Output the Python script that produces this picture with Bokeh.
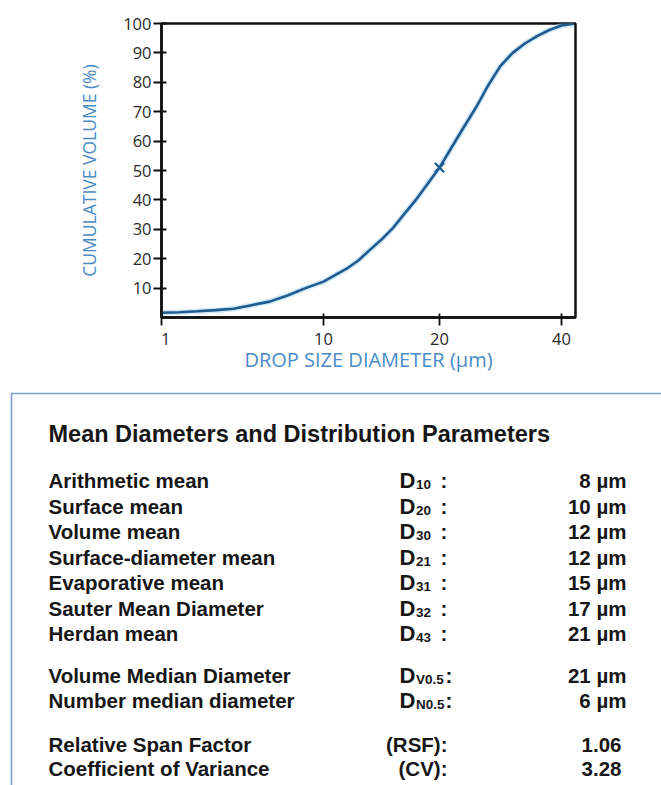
import numpy as np
from bokeh.plotting import figure
from bokeh.layouts import column
from bokeh.models import Range1d, FixedTicker
from bokeh.embed import file_html
from bokeh.resources import INLINE
from bokeh.core.properties import value

# ---- cumulative volume distribution ----
diameter_um = [1, 2, 3, 4, 5, 6, 7, 8, 9, 10, 11, 12, 13, 14, 15, 16, 17, 18, 19, 20,
               22, 24, 26, 28, 30, 32, 34, 36, 38, 40, 42]
cumulative_pct = [1.6, 1.8, 2.1, 2.5, 3.0, 4.2, 5.4, 7.5, 10.0, 12.2, 14.4, 16.6, 19.4, 23.0,
                  26.5, 30.5, 35.4, 40.2, 45.6, 51.0, 57.9, 64.8, 71.5, 79.0, 85.6, 90.0,
                  93.2, 95.7, 97.8, 99.3, 99.9]
median_mark_d = [20]
median_mark_pct = [51]

x_tick_values = [1, 10, 20, 40]
y_tick_values = [10, 20, 30, 40, 50, 60, 70, 80, 90, 100]

# ---- distribution parameters ----
mean_names = ["Arithmetic mean", "Surface mean", "Volume mean", "Surface-diameter mean",
              "Evaporative mean", "Sauter Mean Diameter", "Herdan mean"]
mean_subs = ["10", "20", "30", "21", "31", "32", "43"]
mean_values = [8, 10, 12, 12, 15, 17, 21]

median_names = ["Volume Median Diameter", "Number median diameter"]
median_subs = ["V0.5", "N0.5"]
median_values = [21, 6]

spread_names = ["Relative Span Factor", "Coefficient of Variance"]
spread_symbols = ["(RSF):", "(CV):"]
spread_values = [1.06, 3.28]

# diameter axis is drawn on a piecewise scale between its labelled sizes
axis_anchor_d = [1, 10, 20, 40, 42.3]
axis_anchor_u = [0, 162, 278, 400, 414]


def to_axis(d):
    return np.interp(d, axis_anchor_d, axis_anchor_u)


CURVE = "#1f5b8f"
LABEL_BLUE = "#4a8bc6"
AXIS_FONT = "Open Sans"

p = figure(width=661, height=385, x_range=Range1d(0, 414), y_range=Range1d(0, 100),
           output_backend="svg", toolbar_location=None,
           min_border_left=161, min_border_right=86, min_border_top=23, min_border_bottom=68)
p.frame_align = False
p.grid.visible = False
p.outline_line_color = "#111111"
p.outline_line_width = 2.5
p.background_fill_color = "white"
p.border_fill_color = "white"

xs = to_axis(diameter_um)
p.line(xs, cumulative_pct, line_width=5.5, color="#a9d6f2", alpha=0.55)
p.line(xs, cumulative_pct, line_width=2.6, color=CURVE)
p.scatter(to_axis(median_mark_d), median_mark_pct, marker="x", size=13, line_width=2.2,
          color=CURVE)

xtick_pos = [int(v) for v in to_axis(x_tick_values)]
xa = p.xaxis[0]
xa.ticker = FixedTicker(ticks=xtick_pos)
xa.major_label_overrides = {pos: ("\u00a0\u00a0" + str(v) if pos == 0 else str(v))
                            for pos, v in zip(xtick_pos, x_tick_values)}
xa.minor_tick_line_color = None
xa.major_tick_in = 4
xa.major_tick_out = 8
xa.major_label_standoff = 1
xa.axis_label = "DROP SIZE DIAMETER (µm)"
xa.axis_label_standoff = -7
xa.axis_label_text_font_size = "20px"

ya = p.yaxis[0]
ya.ticker = FixedTicker(ticks=y_tick_values)
ya.minor_tick_line_color = None
ya.major_tick_in = 5
ya.major_tick_out = 8
ya.major_label_standoff = 2
ya.axis_label = "CUMULATIVE VOLUME (%)"
ya.axis_label_standoff = 19
ya.axis_label_text_font_size = "17.5px"

for ax in (xa, ya):
    ax.axis_line_width = 2.5
    ax.axis_line_color = "#111111"
    ax.major_tick_line_width = 1.8
    ax.major_tick_line_color = "#111111"
    ax.major_label_text_font = AXIS_FONT
    ax.major_label_text_font_size = "16.5px"
    ax.major_label_text_color = "#2a2a2a"
    ax.axis_label_text_font = AXIS_FONT
    ax.axis_label_text_font_style = "normal"
    ax.axis_label_text_color = LABEL_BLUE

# ---- parameter table ----
t = figure(width=661, height=400, x_range=Range1d(0, 661), y_range=Range1d(785, 385),
           output_backend="svg", toolbar_location=None, min_border=0)
t.frame_align = False
t.axis.visible = False
t.grid.visible = False
t.outline_line_color = None
t.background_fill_color = "white"
t.border_fill_color = "white"

t.line([11, 11, 665], [790, 393, 393], color="#7d9fd2", line_width=1.6)

TFONT = value("Liberation Sans")
INK = "#161616"
common = dict(text_font=TFONT, text_font_style="bold", text_baseline="alphabetic",
              text_color=INK)

t.text(x=[48], y=[433.5], text=["Mean Diameters and Distribution Parameters"],
       text_font_size="23.5px", **common)

mean_y = [480 + 25.5 * i for i in range(len(mean_names))]
median_y = [675 + 25 * i for i in range(len(median_names))]
spread_y = [744 + 24 * i for i in range(len(spread_names))]

name_y = mean_y + median_y + spread_y
t.text(x=[48] * len(name_y), y=name_y, text=mean_names + median_names + spread_names,
       text_font_size="20.5px", **common)

# symbols D with subscripts
sym_y = mean_y + median_y
t.text(x=[399] * len(sym_y), y=sym_y, text=["D"] * len(sym_y), text_font_size="22px",
       **common)
t.text(x=[415.5] * len(sym_y), y=[y + 4 for y in sym_y], text=mean_subs + median_subs,
       text_font_size="13.5px", **common)
t.text(x=[440] * len(mean_y) + [445] * len(median_y), y=sym_y, text=[":"] * len(sym_y),
       text_font_size="20.5px", **common)
t.text(x=[447] * len(spread_y), y=spread_y, text=spread_symbols, text_align="right",
       text_font_size="20.5px", **common)

# values
t.text(x=[626] * len(sym_y), y=sym_y,
       text=[f"{v} µm" for v in mean_values + median_values], text_align="right",
       text_font_size="20.5px", **common)
t.text(x=[621] * len(spread_y), y=spread_y, text=[f"{v:.2f}" for v in spread_values],
       text_align="right", text_font_size="20.5px", **common)

layout = column(p, t, spacing=0)
open("out.html", "w").write(file_html(layout, INLINE))
